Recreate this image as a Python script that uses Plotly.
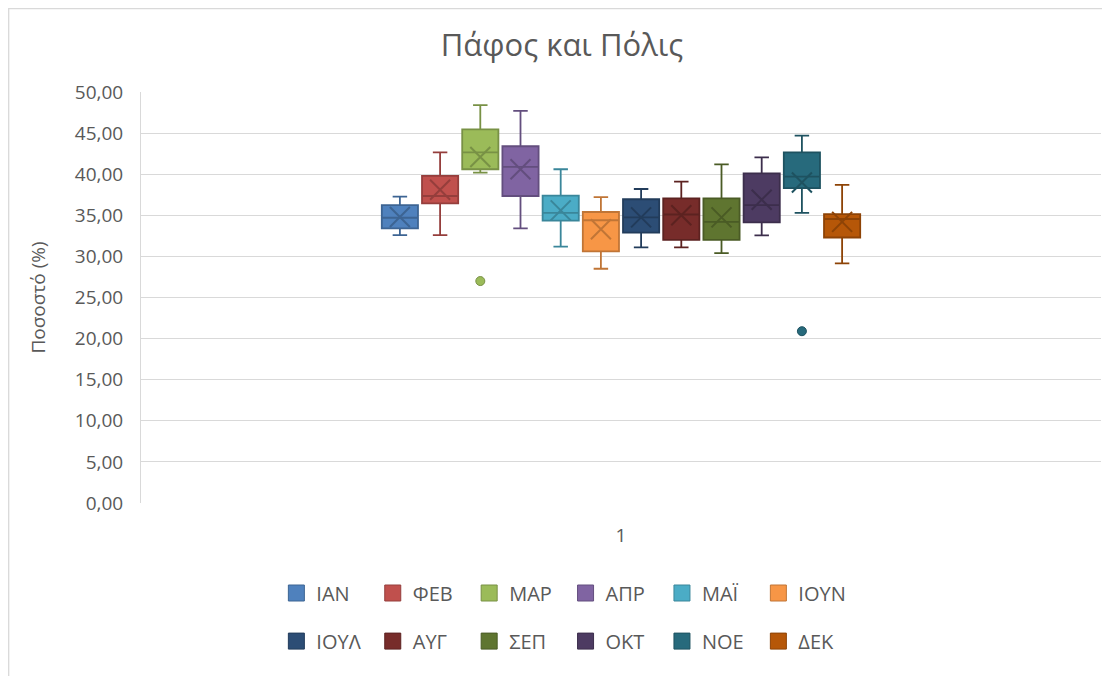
import plotly.graph_objects as go

months = ['ΙΑΝ', 'ΦΕΒ', 'ΜΑΡ', 'ΑΠΡ', 'ΜΑΪ', 'ΙΟΥΝ',
          'ΙΟΥΛ', 'ΑΥΓ', 'ΣΕΠ', 'ΟΚΤ', 'ΝΟΕ', 'ΔΕΚ']
lower = [32.6, 32.6, 40.2, 33.4, 31.2, 28.5, 31.1, 31.1, 30.4, 32.55, 35.3, 29.15]
q1 = [33.4, 36.45, 40.6, 37.35, 34.35, 30.6, 32.9, 32.0, 32.0, 34.15, 38.3, 32.3]
median = [34.7, 37.35, 42.66, 40.9, 35.3, 34.4, 34.75, 35.1, 34.2, 36.25, 39.7, 34.55]
q3 = [36.25, 39.8, 45.45, 43.4, 37.4, 35.4, 36.95, 37.05, 37.05, 40.1, 42.65, 35.15]
upper = [37.26, 42.66, 48.4, 47.7, 40.6, 37.2, 38.2, 39.1, 41.2, 42.05, 44.7, 38.7]
mean = [34.8, 38.1, 42.1, 40.6, 35.6, 33.3, 34.75, 35.0, 34.75, 36.9, 39.0, 34.2]
outlier_month = ['ΜΑΡ', 'ΝΟΕ']
outlier_value = [27.0, 20.9]

colors = ['#4F81BD', '#C0504D', '#9BBB59', '#8064A2', '#4BACC6', '#F79646',
          '#2C4D75', '#772C2A', '#5F7530', '#4D3B62', '#276A7C', '#B65708']


def darker(hex_color, f=0.78):
    r, g, b = (int(hex_color[i:i + 2], 16) for i in (1, 3, 5))
    return 'rgb(%d,%d,%d)' % (r * f, g * f, b * f)


fig = go.Figure()

for i, m in enumerate(months):
    pos = i + 1
    edge = darker(colors[i])
    fig.add_trace(go.Box(
        x=[pos], q1=[q1[i]], median=[median[i]], q3=[q3[i]],
        lowerfence=[lower[i]], upperfence=[upper[i]],
        width=0.9, whiskerwidth=0.4,
        fillcolor=colors[i],
        line=dict(color=edge, width=1.8),
        showlegend=False, hoverinfo='skip'))
    fig.add_trace(go.Scatter(
        x=[pos], y=[mean[i]], mode='markers',
        marker=dict(symbol='x-thin', size=20,
                    line=dict(color=edge, width=2)),
        showlegend=False, hoverinfo='skip'))
    if m in outlier_month:
        fig.add_trace(go.Scatter(
            x=[pos], y=[outlier_value[outlier_month.index(m)]], mode='markers',
            marker=dict(symbol='circle', size=9, color=colors[i],
                        line=dict(color=edge, width=1)),
            showlegend=False, hoverinfo='skip'))
    # legend entries
    fig.add_trace(go.Scatter(
        x=[None], y=[None], mode='markers', name=m,
        marker=dict(symbol='square', size=16, color=colors[i],
                    line=dict(color=edge, width=1)),
        legend='legend' if i < 6 else 'legend2'))

center = (len(months) + 1) / 2
legend_style = dict(orientation='h', entrywidth=51.4, entrywidthmode='pixels',
                    font=dict(size=20, color='#595959', family='Open Sans'),
                    xanchor='left', yanchor='middle', x=0.141,
                    bgcolor='rgba(0,0,0,0)', itemclick=False)

# the page body adds an 8px offset, margins compensate for it
fig.update_layout(
    width=1094, height=668,
    margin=dict(l=133, r=1, t=84, b=173),
    paper_bgcolor='white', plot_bgcolor='white',
    separators=',.',
    font=dict(family='Open Sans', color='#595959'),
    title=dict(text='Πάφος και Πόλις', x=554 / 1094, xanchor='center',
               y=1 - 37 / 668, yanchor='middle', yref='container',
               font=dict(size=31, color='#595959')),
    xaxis=dict(range=[center - 11.94, center + 11.94], showgrid=False,
               zeroline=False, showline=False,
               tickvals=[center], ticktext=['1'], ticklabelstandoff=19,
               tickfont=dict(size=19, color='#595959')),
    yaxis=dict(range=[0, 50], dtick=5, tickformat='.2f',
               showgrid=True, gridcolor='#D9D9D9', gridwidth=1.3,
               zeroline=False, showline=True, linecolor='#D9D9D9',
               ticklabelstandoff=13,
               tickfont=dict(size=19, color='#595959'),
               title=dict(text='Ποσοστό (%)', standoff=24,
                          font=dict(size=19, color='#595959'))),
    legend=dict(legend_style, y=-0.219),
    legend2=dict(legend_style, y=-0.336),
    shapes=[dict(type='rect', xref='paper', yref='paper',
                 x0=(0.7 - 133) / 960, x1=(1200 - 133) / 960,
                 y0=(495 - 800) / 411, y1=(495 - 0.7) / 411,
                 line=dict(color='#D9D9D9', width=1.3), layer='below')],
)

fig.write_html("out.html")
